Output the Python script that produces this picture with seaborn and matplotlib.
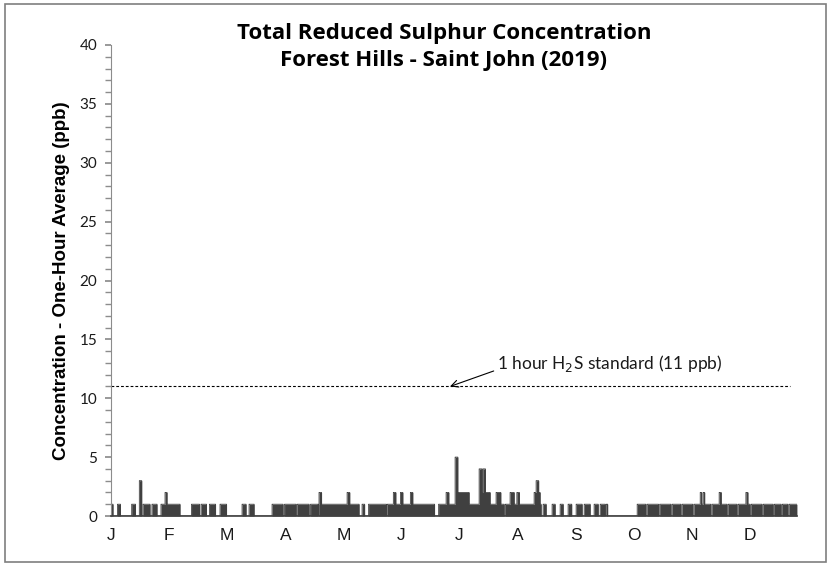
import matplotlib
matplotlib.use("Agg")
import matplotlib.pyplot as plt
from matplotlib.patches import Rectangle
from matplotlib.ticker import MultipleLocator
import numpy as np
import pandas as pd
import seaborn as sns

sns.set_theme(style="white")

TITLE = "Total Reduced Sulphur Concentration\nForest Hills - Saint John (2019)"
Y_LABEL = "Concentration - One-Hour Average (ppb)"
MONTHS = ["J", "F", "M", "A", "M", "J", "J", "A", "S", "O", "N", "D"]
HOURS_PER_LABEL = 730
N_HOURS = 8620
STANDARD = 11
STANDARD_LABEL = "1 hour H$_2$S standard (11 ppb)"

# hourly record index ranges (start, end) where the reading was 1 ppb
BASE_RUNS = [
    (0, 25), (82, 119), (260, 308), (356, 386), (402, 490), (515, 578),
    (628, 867), (1012, 1112), (1131, 1200), (1238, 1314), (1370, 1452),
    (1647, 1697), (1735, 1798), (2024, 2162), (2181, 2325), (2338, 2489),
    (2508, 2602), (2610, 3117), (3155, 3187), (3237, 3460), (3470, 3640),
    (3650, 4066), (4117, 4940), (4955, 5405), (5430, 5468), (5543, 5581),
    (5644, 5682), (5744, 5789), (5845, 5920), (5946, 6021), (6071, 6122),
    (6147, 6210), (6222, 6241), (6612, 6720), (6735, 6880), (6895, 7035),
    (7050, 7160), (7175, 7310), (7325, 7535), (7550, 7740), (7755, 7865),
    (7880, 8030), (8045, 8180), (8195, 8320), (8335, 8420), (8435, 8505),
    (8520, 8620),
]

# higher readings (start, end, ppb)
SPIKES = [
    (356, 386, 3), (679, 704, 2), (2614, 2646, 2), (2967, 3000, 2),
    (3548, 3579, 2), (3637, 3667, 2), (3762, 3792, 2), (4211, 4245, 2),
    (4324, 4358, 5), (4358, 4500, 2), (4626, 4660, 4), (4660, 4764, 2),
    (4672, 4705, 4), (4839, 4898, 2), (5015, 5066, 2), (5100, 5132, 2),
    (5317, 5392, 2), (5342, 5374, 3), (7404, 7423, 2), (7441, 7460, 2),
    (7642, 7668, 2), (7978, 8003, 2),
]

BAR_COLOR = "#404040"
AXIS_GREY = "#8c8c8c"
TEXT_COLOR = "#1a1a1a"


def build_series() -> pd.DataFrame:
    conc = np.zeros(N_HOURS)
    for start, end in BASE_RUNS:
        conc[start:end] = 1
    for start, end, level in SPIKES:
        conc[start:end] = np.maximum(conc[start:end], level)
    return pd.DataFrame({"hour": np.arange(N_HOURS), "ppb": conc})


def plot(df: pd.DataFrame) -> None:
    fig = plt.figure(figsize=(8.33, 5.66), dpi=100)
    ax = fig.add_axes([111 / 833, 50 / 566, 686 / 833, 471 / 566])

    ax.fill_between(df["hour"], df["ppb"], step="post", color=BAR_COLOR, lw=0)
    sns.lineplot(data=df, x="hour", y="ppb", drawstyle="steps-post",
                 color=BAR_COLOR, lw=0.6, ax=ax)

    ax.plot([0, 8532], [STANDARD, STANDARD], color="black", lw=0.8,
            ls=(0, (2.5, 1.8)))
    ax.annotate(STANDARD_LABEL, xy=(4260, STANDARD), xytext=(4850, 12.95),
                fontsize=12.5, family=["Lato", "DejaVu Sans"], va="center",
                color=TEXT_COLOR,
                arrowprops=dict(arrowstyle="->", color="black", lw=0.8,
                                shrinkA=0, shrinkB=0, relpos=(0, 0.2)))

    ax.set_xlim(0, N_HOURS)
    ax.set_ylim(0, 40)
    ax.yaxis.set_major_locator(MultipleLocator(5))
    ax.yaxis.set_minor_locator(MultipleLocator(1))
    ax.tick_params(axis="y", which="both", direction="out", left=True,
                   length=4, color=AXIS_GREY, labelsize=11, pad=6)
    for lbl in ax.get_yticklabels():
        lbl.set_family(["Lato", "DejaVu Sans"])
        lbl.set_color(TEXT_COLOR)

    ax.set_xticks(np.arange(len(MONTHS)) * HOURS_PER_LABEL)
    ax.set_xticklabels(MONTHS, family=["Liberation Sans", "DejaVu Sans"],
                       fontsize=12.5, color=TEXT_COLOR)
    ax.tick_params(axis="x", length=0, pad=9)

    for side in ["top", "right"]:
        ax.spines[side].set_visible(False)
    ax.spines["left"].set_color(AXIS_GREY)
    ax.spines["left"].set_linewidth(0.8)
    ax.spines["bottom"].set_color(BAR_COLOR)
    ax.spines["bottom"].set_linewidth(1.2)

    ax.set_xlabel("")
    ax.set_ylabel(Y_LABEL, fontsize=13.5, fontweight="bold", color="black",
                  family=["Liberation Sans", "DejaVu Sans"], labelpad=7)
    ax.grid(False)

    fig.text(444 / 833, 1 - 47 / 566, TITLE, ha="center", va="center",
             fontsize=16, fontweight="bold", linespacing=1.32,
             family=["Open Sans", "DejaVu Sans"], color="black")

    fig.patches.append(Rectangle((5 / 833, 4 / 566), 821 / 833, 558 / 566,
                                 transform=fig.transFigure, fill=False,
                                 edgecolor="#7f7f7f", lw=1.2))

    fig.savefig("out.png", dpi=100)
    plt.close(fig)


def main() -> None:
    plot(build_series())


if __name__ == "__main__":
    main()
